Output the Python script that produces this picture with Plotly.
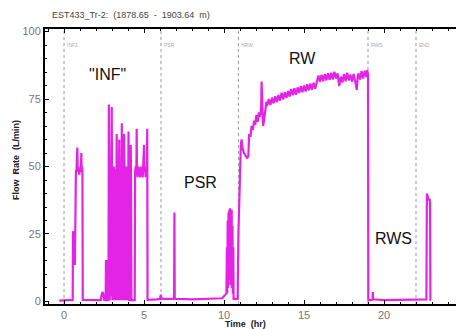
import plotly.graph_objects as go

# ---- data ----
t_inj1 = [-0.3, 0.5, 0.54, 0.56, 0.62, 0.68, 0.7, 0.74, 0.78, 0.83, 0.86, 0.9, 0.95, 1.0, 1.05, 1.08, 1.1, 1.13, 1.15, 1.17]
q_inj1 = [0.3, 0.4, 0.6, 26, 25, 13.5, 27, 48, 49, 57, 48, 50, 47, 49, 48, 55, 49, 50, 47, 0.6]

t_gap1 = [1.6, 2.3, 2.35, 2.4, 2.45, 2.5, 2.6, 2.62, 2.7, 2.72]
q_gap1 = [0.5, 0.5, 2.5, 3.5, 3.0, 0.6, 0.5, 15, 15, 0.5]

t_inf = [2.78, 2.80, 2.83, 2.86, 2.89, 2.92, 2.95, 2.98, 3.00, 3.02, 3.04, 3.06, 3.08, 3.10,
         3.12, 3.14, 3.16, 3.18, 3.20, 3.22, 3.24, 3.26, 3.28, 3.29, 3.31, 3.33, 3.35, 3.37,
         3.39, 3.41, 3.43, 3.45, 3.47, 3.49, 3.51, 3.53, 3.55, 3.57, 3.59, 3.61, 3.63, 3.65,
         3.67, 3.69, 3.71, 3.73, 3.75, 3.77, 3.79, 3.81, 3.83, 3.85, 3.87, 3.89, 3.91, 3.93,
         3.95, 3.97, 3.99, 4.01, 4.03, 4.05, 4.08, 4.15, 4.17, 4.19, 4.21, 4.42, 4.44, 4.48,
         4.52, 4.54, 4.56, 4.60, 4.64, 4.68, 4.72, 4.76, 4.80, 4.84, 4.88, 4.92, 4.96, 5.00,
         5.02, 5.06, 5.10, 5.14, 5.18, 5.20, 5.22]
q_inf = [0.5, 73, 48, 0.5, 50, 2, 48, 72, 46, 0.5, 49, 1, 47, 0.5,
         50, 45, 0.5, 48, 1, 47, 0.5, 49, 48, 62, 47, 0.5, 49, 1,
         48, 0.5, 47, 60, 46, 0.5, 50, 1, 48, 0.5, 47, 66, 47, 0.5,
         49, 1, 45, 0.5, 62, 0.5, 48, 1, 47, 0.5, 49, 1, 50, 0.5,
         46, 0.5, 48, 1, 63, 40, 0.5, 0.5, 58, 45, 0.5, 0.5, 48, 50,
         47, 64, 48, 46, 50, 47, 49, 46, 50, 47, 49, 46, 50, 58,
         48, 50, 46, 49, 47, 64, 0.6]

t_psr = [5.3, 5.8, 6.0, 6.05, 6.1, 6.88, 6.9, 6.92, 8.0, 9.0, 9.6, 9.9, 10.0, 10.1, 10.15,
         10.18, 10.2, 10.23, 10.25, 10.28, 10.3, 10.33, 10.35, 10.38, 10.4, 10.43, 10.45,
         10.48, 10.5, 10.53, 10.55, 10.58, 10.6, 10.78]
q_psr = [0.6, 0.8, 1.0, 2.5, 1.0, 1.0, 33, 1.0, 0.8, 0.9, 1.0, 1.2, 2.0, 3.0, 3.0,
         20, 3, 30, 5, 33, 8, 34, 10, 34.5, 6, 30, 10,
         34, 5, 28, 3, 20, 1, 1]

t_rw = [10.85, 10.9, 10.95, 11.0, 11.05, 11.1, 11.15, 11.25, 11.35, 11.45, 11.52, 11.57, 11.65,
        11.72, 11.8, 11.88, 11.95, 12.02, 12.1, 12.18, 12.26, 12.32, 12.35, 12.38, 12.44, 12.5,
        12.58, 12.65, 12.7,
        12.8, 12.9, 13.0, 13.1, 13.2, 13.3, 13.4, 13.5, 13.6, 13.7, 13.8, 13.9, 14.0, 14.1,
        14.2, 14.3, 14.4, 14.5, 14.6, 14.7, 14.8, 14.9, 15.0, 15.1, 15.2, 15.3, 15.4, 15.5,
        15.6, 15.7, 15.8, 15.85, 15.9, 16.0, 16.1, 16.2, 16.3, 16.4, 16.5, 16.6, 16.7, 16.8,
        16.9, 17.0, 17.1, 17.2, 17.3, 17.4, 17.5, 17.6, 17.7, 17.8, 17.9, 18.0, 18.1, 18.2,
        18.3, 18.35, 18.4, 18.5, 18.6, 18.7, 18.8, 18.9, 18.95, 19.0]
q_rw = [1, 25, 38, 45, 58, 60, 57, 55, 54, 53, 54, 62, 61,
        65, 63.5, 67, 65.5, 69, 66.5, 70, 68.5, 72, 81.5, 72, 65, 67,
        71, 74, 72.5,
        75.0, 72.8, 75.5, 73.4, 76.0, 73.8, 76.5, 74.4, 77.3, 74.8, 77.5, 75.4, 78.0, 75.9,
        78.7, 76.4, 79.0, 76.6, 79.3, 77.2, 79.8, 77.5, 80.0, 77.8, 80.5, 78.2, 80.7, 78.4,
        81.0, 78.8, 81.3, 81.5, 83.7, 81.4, 84.0, 81.6, 84.3, 81.9, 84.5, 82.1, 84.7, 82.2,
        85.1, 82.6, 84.5, 79.8, 83.3, 81.1, 84.3, 81.6, 84.7, 81.9, 84.1, 81.4, 84.3, 81.6,
        78.4, 83.0, 84.5, 82.2, 85.3, 82.6, 85.5, 83.1, 85.7, 84.0]

t_rws = [19.02, 19.2, 19.28, 19.3, 19.32, 20.0, 21.0, 22.0, 22.6, 22.65, 22.68, 22.72, 22.76,
         22.8, 22.85, 22.88, 22.9, 22.95]
q_rws = [0.5, 0.5, 0.8, 3.5, 0.8, 0.5, 0.6, 0.5, 0.6, 0.8, 40, 39, 38,
         37.5, 38, 36, 0.6, 0.5]

event_times = [0.0, 6.06, 10.9, 19.0, 22.0]
event_labels = ["INF1", "PSR", "HRW", "RWS", "END"]

phase_labels = ['"INF"', "PSR", "RW", "RWS"]
phase_x = [2.7, 8.5, 14.9, 20.6]
phase_y = [84, 44, 90, 23.5]

time = t_inj1 + t_gap1 + t_inf + t_psr + t_rw + t_rws
flow = q_inj1 + q_gap1 + q_inf + q_psr + q_rw + q_rws

# page body has an 8px margin: figure is drawn offset by (8, 8)
OFF = 8
W, H = 456, 321
L, T = 45 - OFF, 29 - OFF
R = W - (464 - OFF)
B = H - (304 - OFF)
PW, PH = W - L - R, H - T - B

def px(xs):
    return (xs - OFF - L) / PW

def py(ys):
    return (H - B - (ys - OFF)) / PH

fig = go.Figure()
fig.add_trace(go.Scatter(x=time, y=flow, mode="lines",
                         line=dict(color="#e424e4", width=2.2), showlegend=False,
                         hoverinfo="skip"))

for t, lab in zip(event_times, event_labels):
    fig.add_shape(type="line", x0=t, x1=t, y0=0, y1=1, xref="x", yref="paper",
                  line=dict(color="#9a9a9a", width=1, dash="dot"), layer="below")
    fig.add_annotation(x=t, y=95, text=lab, showarrow=False, xanchor="left",
                       xshift=1, font=dict(size=5, color="#aaaaaa", family="Liberation Sans"))

for lab, x, y in zip(phase_labels, phase_x, phase_y):
    fig.add_annotation(x=x, y=y, text=lab, showarrow=False,
                       font=dict(size=16, color="#111111", family="Liberation Sans"))

fig.add_annotation(x=px(50), y=py(15), xref="paper", yref="paper",
                   text="EST433_Tr-2:  (1878.65  -  1903.64  m)", showarrow=False,
                   xanchor="left", yanchor="middle",
                   font=dict(size=9, color="#444444", family="Liberation Sans"))
fig.add_annotation(x=px(245), y=py(323.5), xref="paper", yref="paper",
                   text="<b>Time  (hr)</b>", showarrow=False, xanchor="center", yanchor="middle",
                   font=dict(size=9, color="#222222", family="Liberation Sans"))
fig.add_annotation(x=px(16), y=py(160), xref="paper", yref="paper",
                   text="<b>Flow  Rate  (L/min)</b>", showarrow=False, textangle=-90,
                   xanchor="center", yanchor="middle",
                   font=dict(size=9, color="#222222", family="Liberation Sans"))

fig.update_layout(
    width=W, height=H,
    margin=dict(l=L, r=R, t=T, b=B, autoexpand=False),
    paper_bgcolor="white", plot_bgcolor="white",
    font=dict(family="Liberation Sans", color="#555555"),
)

fig.update_xaxes(range=[-1.19, 25.0], tickmode="array", tickvals=[0, 5, 10, 15, 20, 25],
                 ticks="inside", ticklen=4, tickcolor="black",
                 minor=dict(dtick=1, ticks="inside", ticklen=2, tickcolor="black"),
                 showline=True, linecolor="black", linewidth=2, mirror="ticks",
                 showgrid=False, zeroline=False, automargin=False,
                 tickfont=dict(size=11, color="#777777"))
fig.update_yaxes(range=[-0.93, 100.93], tickmode="array", tickvals=[0, 25, 50, 75, 100],
                 ticks="inside", ticklen=4, tickcolor="black",
                 minor=dict(dtick=5, ticks="inside", ticklen=2, tickcolor="black"),
                 showline=True, linecolor="black", linewidth=2, mirror="ticks",
                 showgrid=False, zeroline=False, automargin=False,
                 tickfont=dict(size=11, color="#777777"))

fig.write_html("out.html")
